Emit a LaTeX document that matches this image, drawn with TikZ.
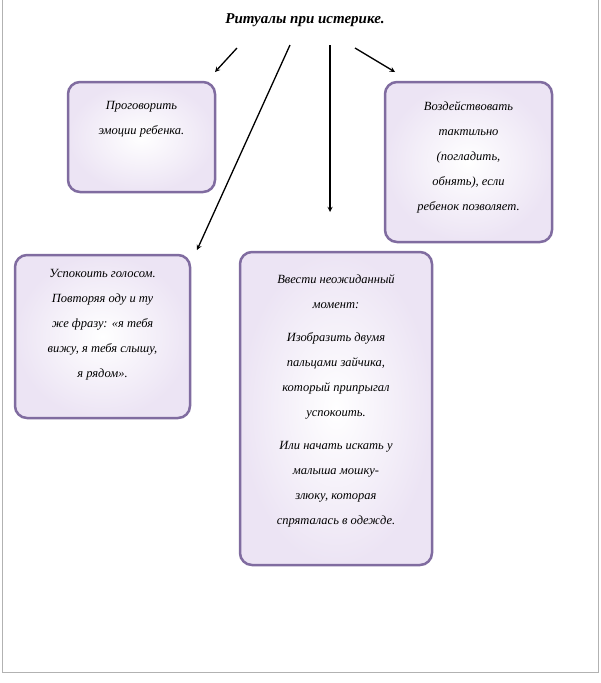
\documentclass[tikz,border=0pt]{standalone}
\usepackage{fontspec}
\setmainfont{Liberation Serif}
\begin{document}
\begin{tikzpicture}[x=1pt,y=-1pt,
  box/.style={draw=boxc,line width=2.5pt,rounded corners=12pt,inner color=white,outer color=boxfill,fill=white},
  txt/.style={align=center,font=\itshape\fontsize{12.5}{25}\selectfont},
  arr/.style={-stealth,line width=1.3pt}]
\definecolor{boxc}{RGB}{128,108,160}
\definecolor{boxfill}{RGB}{236,228,244}
\path[use as bounding box] (0,0) rectangle (600,683);
\draw[gray!60,line width=0.8pt] (2,0) -- (2,672) -- (598,672) -- (598,0);
\node[font=\bfseries\itshape\fontsize{15}{17}\selectfont] (title) at (305,20) {Ритуалы при истерике.};
\coordinate (a1) at (237,48); \coordinate (a2) at (290,45);
\coordinate (a3) at (330,45); \coordinate (a4) at (355,48);
\draw[box] (68,82) rectangle (215,192);
\node[txt,anchor=north] (b1) at (141.5,98) {Проговорить\\эмоции ребенка.};
\draw[box] (385,82) rectangle (552,242);
\node[txt,anchor=north] (b2) at (468.5,98) {Воздействовать\\тактильно\\(погладить,\\обнять), если\\ребенок позволяет.};
\draw[box] (15,255) rectangle (190,418);
\node[txt,anchor=north] (b3) at (102.5,266) {Успокоить голосом.\\Повторяя оду и ту\\же фразу: «я тебя\\вижу, я тебя слышу,\\я рядом».};
\draw[box] (240,252) rectangle (432,565);
\node[txt,anchor=north] (b4) at (336,271) {Ввести неожиданный\\момент:\\[8pt]Изобразить двумя\\пальцами зайчика,\\который припрыгал\\успокоить.\\[8pt]Или начать искать у\\малыша мошку-\\злюку, которая\\спряталась в одежде.};
\coordinate (e1) at (215,72); \coordinate (e2) at (197,250);
\coordinate (e3) at (330,212); \coordinate (e4) at (395,72);
\draw[arr] (a1) -- (e1);
\draw[arr] (a2) -- (e2);
\draw[arr] (a3) -- (e3);
\draw[arr] (a4) -- (e4);
\end{tikzpicture}
\end{document}
